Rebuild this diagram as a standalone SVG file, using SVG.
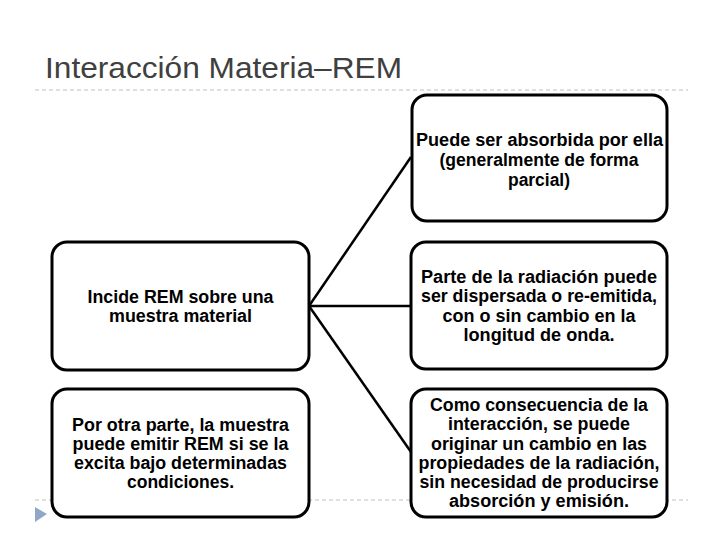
<svg xmlns="http://www.w3.org/2000/svg" width="720" height="540" viewBox="0 0 720 540">
<style>
.title{font-family:"Liberation Sans",Arial,sans-serif;font-size:29px;fill:#404040}
.sep{stroke:#BFBFBF;stroke-width:1;stroke-dasharray:4 3;fill:none}
.box{fill:#FFFFFF;stroke:#000000;stroke-width:3}
.t{font-family:"Liberation Sans",Arial,sans-serif;font-size:18px;font-weight:bold;fill:#000000;text-anchor:middle}
.conn{stroke:#000000;stroke-width:2.5;fill:none}
</style>
<rect width="720" height="540" fill="#FFFFFF"/>
<text class="title" x="45" y="78" textLength="357" lengthAdjust="spacingAndGlyphs">Interacción Materia–REM</text>
<line class="sep" x1="35" y1="90" x2="688" y2="90"/>
<line class="sep" x1="35" y1="500" x2="688" y2="500"/>
<polygon points="35,507 35,522 47,514" fill="#8FA8C8"/>
<g id="connectors">
<line class="conn" x1="309" y1="306" x2="411" y2="157"/>
<line class="conn" x1="309" y1="306" x2="411" y2="306"/>
<line class="conn" x1="309" y1="306" x2="411" y2="452"/>
</g>
<g id="n-absorbida">
<rect class="box" x="412" y="95" width="255" height="126" rx="15"/>
<text class="t" x="539.5" y="146" textLength="247" lengthAdjust="spacingAndGlyphs">Puede ser absorbida por ella</text>
<text class="t" x="539" y="166" textLength="199" lengthAdjust="spacingAndGlyphs">(generalmente de forma</text>
<text class="t" x="539" y="186" textLength="62" lengthAdjust="spacingAndGlyphs">parcial)</text>
</g>
<g id="n-incide">
<rect class="box" x="52" y="242" width="257" height="128" rx="15"/>
<text class="t" x="180.5" y="303" textLength="186" lengthAdjust="spacingAndGlyphs">Incide REM sobre una</text>
<text class="t" x="180.5" y="322" textLength="143" lengthAdjust="spacingAndGlyphs">muestra material</text>
</g>
<g id="n-dispersada">
<rect class="box" x="411" y="242" width="256" height="127" rx="15"/>
<text class="t" x="539" y="283" textLength="236" lengthAdjust="spacingAndGlyphs">Parte de la radiación puede</text>
<text class="t" x="539" y="302" textLength="236" lengthAdjust="spacingAndGlyphs">ser dispersada o re-emitida,</text>
<text class="t" x="539" y="322" textLength="193" lengthAdjust="spacingAndGlyphs">con o sin cambio en la</text>
<text class="t" x="539" y="341" textLength="151" lengthAdjust="spacingAndGlyphs">longitud de onda.</text>
</g>
<g id="n-emitir">
<rect class="box" x="52" y="389" width="257" height="128" rx="15"/>
<text class="t" x="180.5" y="431" textLength="217" lengthAdjust="spacingAndGlyphs">Por otra parte, la muestra</text>
<text class="t" x="180.5" y="450" textLength="216" lengthAdjust="spacingAndGlyphs">puede emitir REM si se la</text>
<text class="t" x="180.5" y="469" textLength="213" lengthAdjust="spacingAndGlyphs">excita bajo determinadas</text>
<text class="t" x="180.5" y="488" textLength="107" lengthAdjust="spacingAndGlyphs">condiciones.</text>
</g>
<g id="n-consecuencia">
<rect class="box" x="411" y="389" width="256" height="128" rx="15"/>
<text class="t" x="539" y="411" textLength="218" lengthAdjust="spacingAndGlyphs">Como consecuencia de la</text>
<text class="t" x="539" y="430" textLength="182" lengthAdjust="spacingAndGlyphs">interacción, se puede</text>
<text class="t" x="539" y="450" textLength="216" lengthAdjust="spacingAndGlyphs">originar un cambio en las</text>
<text class="t" x="539" y="469" textLength="241" lengthAdjust="spacingAndGlyphs">propiedades de la radiación,</text>
<text class="t" x="539" y="488" textLength="239" lengthAdjust="spacingAndGlyphs">sin necesidad de producirse</text>
<text class="t" x="539" y="507" textLength="180" lengthAdjust="spacingAndGlyphs">absorción y emisión.</text>
</g>
</svg>
